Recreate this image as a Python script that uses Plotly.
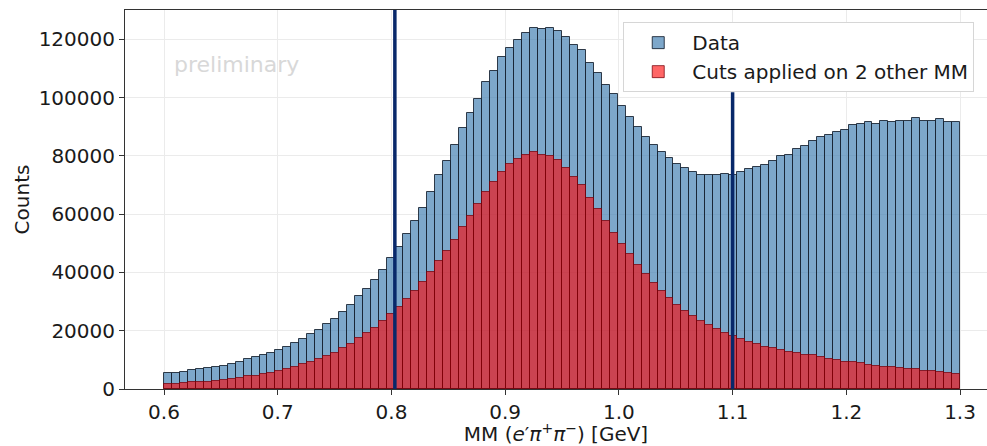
import plotly.graph_objects as go

# Histogram binning (100 bins from 0.6 to 1.3 GeV)
BIN_LO = 0.6
BIN_HI = 1.3
N_BINS = 100

data_counts = [
    5400, 5400, 5850, 6430, 6880, 7330, 7450, 8030, 8720, 9400,
    10200, 10900, 11700, 12400, 13500, 14550, 15930, 17200, 18800, 20300,
    22250, 23980, 26380, 28790, 31760, 34290, 37390, 40830, 44960, 48740,
    53210, 57560, 62160, 67530, 73380, 78320, 83590, 89440, 94600, 99670,
    105160, 109170, 113860, 117070, 119820, 122010, 123840, 123610, 123840, 122700,
    120640, 118110, 116270, 111910, 108360, 104340, 101240, 97000, 93330, 89890,
    86580, 83590, 81290, 79120, 77290, 75680, 74540, 73270, 73270, 73270,
    73620, 73270, 74600, 75560, 76250, 76700, 78090, 79810, 80150, 82330,
    83480, 84970, 86450, 87030, 88060, 88870, 90470, 90930, 91730, 91040,
    92070, 91610, 92070, 92070, 92990, 92070, 92070, 92530, 91730, 91730,
]

cut_counts = [
    1600, 1600, 1950, 2300, 2520, 2520, 2750, 3200, 3550, 3900,
    4360, 4580, 5160, 5620, 6190, 6880, 7450, 8490, 9290, 10320,
    11350, 12500, 14100, 15480, 17540, 19150, 20870, 23280, 25800, 28100,
    30860, 33710, 36700, 40140, 43800, 47470, 51260, 55620, 59270, 63640,
    67530, 70970, 74410, 77060, 79010, 80390, 81420, 80390, 79920, 78670,
    75680, 72580, 69940, 65700, 61820, 57690, 53660, 49700, 46330, 42550,
    39450, 36230, 33710, 31300, 28900, 26830, 25110, 23390, 22020, 20740,
    19370, 18340, 17300, 16170, 15480, 14560, 14100, 13420, 12730, 12270,
    11800, 11590, 11130, 10200, 9980, 9400, 9400, 9060, 8260, 8030,
    7680, 7450, 7110, 6770, 6770, 6310, 6200, 5850, 5500, 5270,
]

# vertical cut lines: position and visible top (counts)
cut_lines = [0.803, 1.1]
cut_line_tops = [132000, 101800]

x_tick_vals = [0.6, 0.7, 0.8, 0.9, 1.0, 1.1, 1.2, 1.3]
y_tick_vals = [0, 20000, 40000, 60000, 80000, 100000, 120000]

series_names = ["Data", "Cuts applied on 2 other MM"]

width = (BIN_HI - BIN_LO) / N_BINS
centers = [BIN_LO + (i + 0.5) * width for i in range(N_BINS)]

FONT = "DejaVu Sans"
ymax = max(data_counts) * 1.05

fig = go.Figure()
fig.add_trace(go.Bar(
    x=centers, y=data_counts, width=width, name=series_names[0],
    marker=dict(color="rgba(70,130,180,0.7)",
                line=dict(color="rgba(20,30,45,0.85)", width=1)),
))
fig.add_trace(go.Bar(
    x=centers, y=cut_counts, width=width, name=series_names[1],
    marker=dict(color="rgba(255,0,0,0.6)",
                line=dict(color="rgba(120,0,10,0.75)", width=1)),
))

for xv, top in zip(cut_lines, cut_line_tops):
    fig.add_trace(go.Scatter(
        x=[xv, xv], y=[0, top], mode="lines", showlegend=False,
        hoverinfo="skip", line=dict(color="#08286a", width=3.5),
    ))

fig.add_annotation(text="preliminary", xref="paper", yref="paper",
                   x=0.055, y=0.855, xanchor="left", yanchor="middle",
                   showarrow=False, font=dict(family=FONT, size=22, color="#d8d8d8"))

x_lo = BIN_LO - 0.05 * (BIN_HI - BIN_LO) + 0.0007
x_hi = 1.3237

fig.update_layout(
    width=987, height=446,
    margin=dict(l=125, r=0, t=10, b=57),
    barmode="overlay", bargap=0,
    plot_bgcolor="white", paper_bgcolor="white",
    font=dict(family=FONT, size=20, color="#1a1a1a"),
    showlegend=True,
    legend=dict(x=0.578, y=0.968, xanchor="left", yanchor="top",
                bgcolor="rgba(255,255,255,1)", bordercolor="#d6d6d6",
                borderwidth=1, font=dict(family=FONT, size=20, color="#1a1a1a"),
                tracegroupgap=4, itemwidth=58),
    xaxis=dict(range=[x_lo, x_hi], tickvals=x_tick_vals, tickformat=".1f",
               showgrid=True, gridcolor="#ebebeb", gridwidth=1,
               showline=True, linecolor="#333333", linewidth=1, mirror=True,
               ticks="outside", ticklen=5, tickcolor="#333333",
               zeroline=False,
               title=dict(text="MM (<i>e</i>′<i>π</i><sup>+</sup><i>π</i><sup>−</sup>) [GeV]",
                          font=dict(size=20), standoff=3),
               tickfont=dict(size=20)),
    yaxis=dict(range=[0, ymax], tickvals=y_tick_vals, tickformat="d",
               showgrid=True, gridcolor="#ebebeb", gridwidth=1,
               showline=True, linecolor="#333333", linewidth=1,
               ticks="outside", ticklen=5, tickcolor="#333333",
               zeroline=False,
               title=dict(text="Counts", font=dict(size=20), standoff=3),
               tickfont=dict(size=20)),
)

fig.write_html("out.html")
